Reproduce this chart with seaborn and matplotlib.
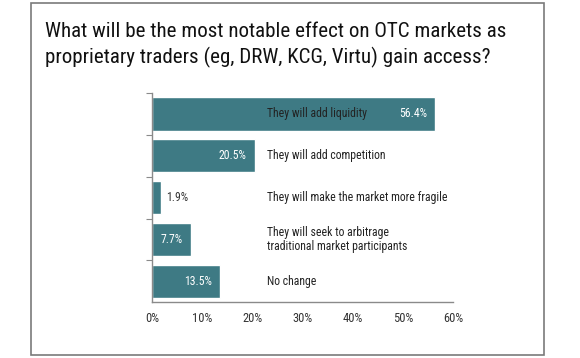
import matplotlib
matplotlib.use("Agg")
import matplotlib.pyplot as plt
from matplotlib.patches import Rectangle
from matplotlib.ticker import FuncFormatter
import seaborn as sns
import pandas as pd

title_lines = ["What will be the most notable effect on OTC markets as",
               "proprietary traders (eg, DRW, KCG, Virtu) gain access?"]
answers = ["They will add liquidity",
           "They will add competition",
           "They will make the market more fragile",
           "They will seek to arbitrage\ntraditional market participants",
           "No change"]
shares = [56.4, 20.5, 1.9, 7.7, 13.5]
x_ticks = [0, 10, 20, 30, 40, 50, 60]

bar_color = "#3e7a84"
axis_gray = "#8a8a8a"

sns.set_style("white")
plt.rcParams["font.family"] = ["Roboto Condensed", "Liberation Sans Narrow",
                               "Roboto", "DejaVu Sans"]

df = pd.DataFrame({"answer": answers, "share": shares})

fig = plt.figure(figsize=(5.8, 3.58), dpi=100)
ax = fig.add_axes([0.262, 0.156, 0.519, 0.584])
sns.barplot(data=df, y="answer", x="share", orient="h", color=bar_color,
            saturation=1, width=0.79, ax=ax)

ax.set_xlim(0, 60)
ax.set_ylim(4.5, -0.5)
ax.set_xlabel("")
ax.set_ylabel("")
ax.set_xticks(x_ticks)
ax.xaxis.set_major_formatter(FuncFormatter(lambda v, p: f"{v:.0f}%"))
ax.set_yticks([i - 0.5 for i in range(len(answers))])
ax.set_yticklabels([])
ax.tick_params(axis="x", direction="in", length=4, color=axis_gray,
               labelsize=9, labelcolor="#333333", pad=7)
ax.tick_params(axis="y", direction="out", length=4, color=axis_gray, left=True)
for s in ["top", "right"]:
    ax.spines[s].set_visible(False)
for s in ["left", "bottom"]:
    ax.spines[s].set_color(axis_gray)
    ax.spines[s].set_linewidth(1.0)

for i, (ans, val) in enumerate(zip(answers, shares)):
    ax.text(22.9, i, ans, va="center", ha="left", fontsize=8.5,
            color="#222222", linespacing=1.15)
    if val > 5:
        ax.text(val - 1.6, i, f"{val}%", va="center", ha="right",
                fontsize=8.5, color="white")
    else:
        ax.text(val + 0.9, i, f"{val}%", va="center", ha="left",
                fontsize=8.5, color="#333333")

fig.text(45 / 580, 1 - 37 / 358, title_lines[0], fontsize=15.1,
         color="#111111", va="baseline", ha="left")
fig.text(45 / 580, 1 - 63 / 358, title_lines[1], fontsize=15.1,
         color="#111111", va="baseline", ha="left")

fig.patches.append(Rectangle((31 / 580, 3 / 358), 513 / 580, 352 / 358,
                             transform=fig.transFigure, fill=False,
                             edgecolor="#7a7a7a", linewidth=1.2))

fig.savefig("out.png", dpi=100)
